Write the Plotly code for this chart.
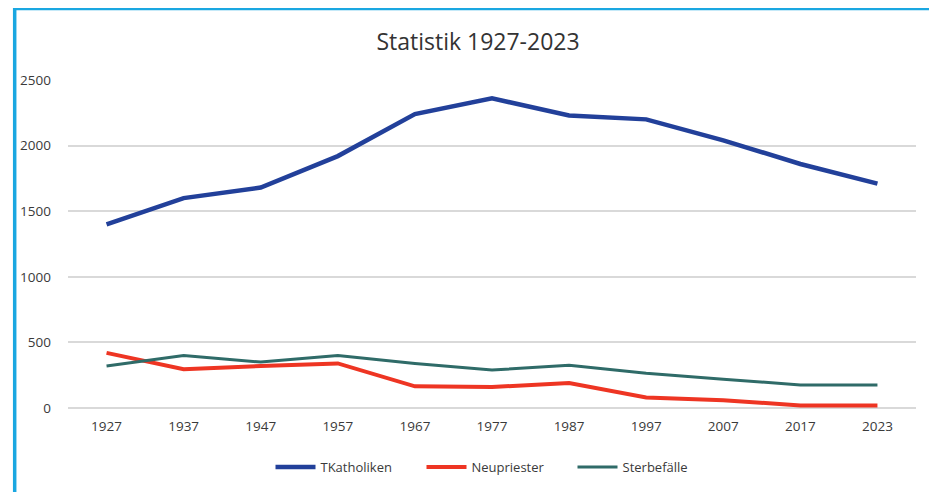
import plotly.graph_objects as go

years = ["1927", "1937", "1947", "1957", "1967", "1977", "1987", "1997", "2007", "2017", "2023"]
katholiken = [1400, 1600, 1680, 1920, 2240, 2360, 2230, 2200, 2040, 1860, 1710]
neupriester = [420, 295, 320, 340, 165, 160, 190, 80, 60, 20, 20]
sterbefaelle = [320, 400, 350, 400, 340, 290, 325, 265, 220, 175, 175]

# page body has an 8px margin, so figure coordinates = reference - 8
OFF = 8
W, H = 937 - OFF, 492 - OFF
L = 65 - OFF
R = W - (916 - OFF)
T = 80 - OFF
B = H - (407.7 - OFF)

fig = go.Figure()
fig.add_trace(go.Scatter(x=years, y=katholiken, mode="lines", name="TKatholiken",
                         line=dict(color="#22409a", width=4.5)))
fig.add_trace(go.Scatter(x=years, y=neupriester, mode="lines", name="Neupriester",
                         line=dict(color="#ee3523", width=4)))
fig.add_trace(go.Scatter(x=years, y=sterbefaelle, mode="lines", name="Sterbefälle",
                         line=dict(color="#2f6b68", width=3)))

pw = W - L - R
ph = H - T - B
def px(x):
    return (x - OFF - L) / pw
def py(y):
    return (H - B - (y - OFF)) / ph

fig.add_shape(type="rect", xref="paper", yref="paper",
              x0=px(11.5), x1=px(932), y0=py(520), y1=py(8.5),
              line=dict(color="#1aa7e1", width=3.5), fillcolor="rgba(0,0,0,0)", layer="above")

fig.update_layout(
    width=W, height=H,
    margin=dict(l=L, r=R, t=T, b=B),
    paper_bgcolor="white", plot_bgcolor="white",
    font=dict(family="Open Sans", color="#3a3a3a", size=13),
    title=dict(text="Statistik 1927-2023", x=(478 - OFF) / W, xanchor="center",
               y=1 - (42 - OFF) / H, yanchor="middle", yref="container",
               font=dict(size=23, color="#333333", family="Open Sans")),
    showlegend=True,
    legend=dict(orientation="h", xref="container", yref="container",
                x=(497 - OFF) / W, xanchor="center", y=1 - (467 - OFF) / H, yanchor="middle",
                font=dict(size=13, color="#3a3a3a"), itemwidth=40, entrywidth=96,
                traceorder="normal"),
    xaxis=dict(type="category", range=[-0.5, 10.5], showgrid=False, zeroline=False,
               showline=False, ticks="", tickfont=dict(size=13.5, color="#3a3a3a"),
               ticklabelstandoff=8),
    yaxis=dict(range=[0, 2500], tickvals=[0, 500, 1000, 1500, 2000, 2500],
               showgrid=True, gridcolor="#d9d9d9", gridwidth=1.5,
               zeroline=True, zerolinecolor="#d9d9d9", zerolinewidth=1.5,
               showline=False, ticks="", tickfont=dict(size=13.5, color="#3a3a3a"),
               ticklabelstandoff=16),
)

fig.write_html("out.html")
